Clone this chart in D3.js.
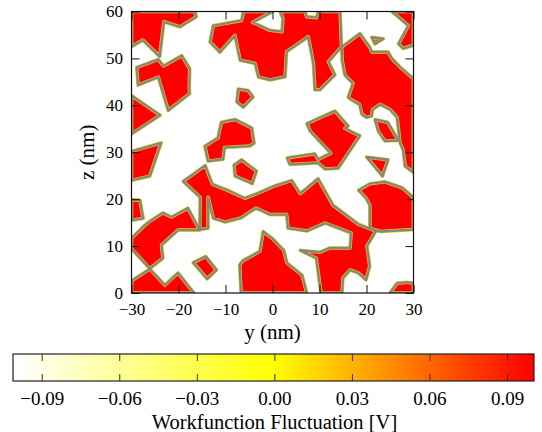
<!DOCTYPE html>
<html><head><meta charset="utf-8">
<script src="https://cdn.jsdelivr.net/npm/d3@7"></script>
<style>
html,body{margin:0;padding:0;background:#fff;}
svg text{font-family:"Liberation Serif","Times New Roman",serif;fill:#000;}
</style></head>
<body><svg id="chart" width="542" height="432"></svg>
<script>
// ---- data (y, z in nm) : regions at +0.1 V (red); the rest is -0.1 V ----
const grainA = [[-30,60],[-30,52.5],[-27.6,53.9],[-24.0,50.4],[-23.1,57.8],[-19.7,56.7],[-16.2,58.9],[-16.5,60]];
const grainB = [[-28.9,48.1],[-24.3,49.8],[-23.2,48.4],[-19.3,50.6],[-17.6,47.8],[-17.7,43.6],[-17.6,42.5],[-22.2,38.9],[-24.3,46.0],[-28.6,44.3]];
const grainC = [[-6.2,60],[0.1,60],[-4.2,57.7],[-0.5,56.0],[2.0,55.7],[2.2,58.5],[1.6,60],[6.9,60],[7.3,58.9],[9.4,58.7],[9.7,60],[14.4,60],[14.7,52.5],[11.9,49.3],[13.3,46.5],[10.1,43.3],[9.0,43.3],[8.7,48.9],[7.6,54.6],[3.0,51.4],[2.7,46.1],[-0.5,45.4],[-3.0,46.0],[-3.7,48.9],[-6.9,49.6],[-8.0,54.9],[-11.2,51.3],[-13.3,53.5],[-12.6,57.0],[-6.6,58.1]];
const grainTri = [[21.1,54.5],[23.6,54.2],[21.8,53.1]];
const grainCornerTR = [[25.4,60],[28.9,57.0],[26.8,53.1],[27.8,52.1],[30,52.8],[30,60]];
const grainD = [[14.7,52.4],[18.6,55.3],[20.7,52.4],[21.1,51.4],[24.6,51.4],[25.4,50.0],[27.1,48.2],[30,45.7],[30,25.7],[28.2,27.0],[27.8,30.4],[27.1,32.1],[26.7,35.7],[26.5,37.4],[25.0,39.1],[22.9,40.2],[21.3,39.1],[21.1,37.7],[20.0,37.4],[19.0,38.1],[18.5,40.2],[16.9,41.1],[16.1,41.7],[17.1,44.7],[15.4,46.4],[14.8,49.6]];
const grainF = [[21.8,37.0],[24.5,36.4],[26.8,32.5],[23.9,32.4],[22.5,34.5]];
const grainG = [[7.3,36.1],[8.0,34.5],[12.4,29.8],[9.7,28.5],[9.0,29.7],[3.1,28.8],[3.7,27.4],[9.7,27.7],[11.2,26.4],[14.0,26.6],[18.6,33.5],[15.4,35.1],[16.1,35.6],[13.3,38.8]];
const grainH = [[20.0,29.0],[24.6,28.4],[23.4,24.9]];
const grainI = [[18.3,21.9],[20.7,23.3],[23.9,23.7],[27.5,22.5],[30,20.4],[30,13.5],[22.9,13.1],[20.7,13.8],[20.7,18.7],[19.9,20.2]];
const grainCornerBR = [[25.0,0],[26.5,2.1],[28.6,2.3],[30,2.1],[30,0]];
const grainL = [[-30,42.1],[-23.9,37.9],[-30,33.9]];
const grainM = [[-7.3,43.5],[-5.2,43.2],[-4.1,41.8],[-6.2,39.6],[-7.6,40.7]];
const grainN = [[-14.4,31.3],[-11.6,33.1],[-10.9,36.4],[-8.0,37.0],[-4.4,35.2],[-3.9,31.9],[-4.9,31.3],[-10.2,31.0],[-10.5,28.5],[-13.7,28.1]];
const grainO = [[-8.2,27.3],[-6.6,28.4],[-3.4,26.0],[-4.3,23.3],[-8.0,24.9]];
const grainP = [[-30,30.2],[-23.7,32.0],[-26.1,24.9],[-30,24.0]];
const grainSL = [[-30,19.9],[-28.2,19.8],[-27.5,15.9],[-30,15.5]];
const grainR = [[-30,11.7],[-27.1,14.5],[-26.1,15.3],[-23.3,17.1],[-21.5,16.2],[-18.0,18.1],[-15.5,13.4],[-20.1,13.4],[-23.6,10.2],[-23.3,7.4],[-26.1,5.2],[-30,9.4]];
const grainS = [[-30,0],[-30,2.6],[-26.1,5.1],[-22.9,1.7],[-20.1,4.3],[-16.7,0]];
const grainT = [[-16.9,6.5],[-14.2,7.8],[-11.9,4.9],[-13.9,3.0]];
const grainK = [[-6.7,0],[-7.0,6.0],[-6.3,6.9],[-2.7,8.9],[-2.0,13.1],[-0.1,11.7],[2.4,9.1],[3.1,6.4],[6.3,3.8],[7.3,0]];
const grainBandJ = [[-19.0,23.8],[-14.3,27.2],[-12.8,23.2],[-9.5,21.9],[-5.9,20.2],[-3.1,21.3],[0.3,22.8],[4.1,24.0],[5.9,21.2],[9.7,24.4],[12.9,18.7],[18.2,14.7],[22.0,13.2],[20.1,10.0],[20.7,5.7],[19.9,2.8],[18.2,4.3],[16.5,4.9],[15.0,3.2],[14.8,0],[10.3,0],[9.3,7.4],[5.9,9.1],[10.1,8.7],[12.2,9.6],[16.5,9.6],[16.7,12.8],[11.2,14.9],[7.3,13.2],[3.3,13.8],[3.0,16.7],[-0.5,16.7],[-3.5,18.1],[-6.7,16.0],[-10.1,15.1],[-12.6,15.9],[-13.7,20.4],[-13.7,13.8],[-15.5,13.5],[-15.4,20.4]];

const highRegions = [grainA, grainB, grainC, grainTri, grainCornerTR, grainD, grainF, grainG, grainH, grainI, grainCornerBR, grainL, grainM, grainN, grainO, grainP, grainSL, grainR, grainS, grainT, grainK, grainBandJ];
const highValue = 0.1;
const lowValue = -0.1;

const yTicks = [-30, -20, -10, 0, 10, 20, 30];
const zTicks = [0, 10, 20, 30, 40, 50, 60];
const cbTicks = [-0.09, -0.06, -0.03, 0.00, 0.03, 0.06, 0.09];
const cbStops = [-0.1, 0, 0.1];
const cbColors = ["#ffffff", "#ffff00", "#ff0000"];
const xLabel = "y (nm)";
const yLabel = "z (nm)";
const cbLabel = "Workfunction Fluctuation [V]";

// ---- drawing ----
const svg = d3.select("#chart");
const x = d3.scaleLinear().domain([-30, 30]).range([131.5, 413.5]);
const y = d3.scaleLinear().domain([0, 60]).range([293, 11.5]);
const color = d3.scaleLinear().domain(cbStops).range(cbColors);

svg.append("defs").append("clipPath").attr("id", "plotclip")
  .append("rect").attr("x", x(-30)).attr("y", y(60))
  .attr("width", x(30) - x(-30)).attr("height", y(0) - y(60));

const plot = svg.append("g").attr("clip-path", "url(#plotclip)");
plot.append("rect").attr("x", x(-30)).attr("y", y(60))
  .attr("width", x(30) - x(-30)).attr("height", y(0) - y(60))
  .attr("fill", color(lowValue));

const line = d3.line().x(d => x(d[0])).y(d => y(d[1])).curve(d3.curveLinearClosed);
plot.selectAll("path.fill").data(highRegions).join("path").attr("class", "fill")
  .attr("d", line).attr("fill", color(highValue)).attr("stroke", "none");
plot.selectAll("path.fringe").data(highRegions).join("path").attr("class", "fringe")
  .attr("d", line).attr("fill", "none").attr("stroke", "#e6d21a").attr("stroke-width", 3.6)
  .attr("stroke-linejoin", "round");
plot.selectAll("path.edge").data(highRegions).join("path").attr("class", "edge")
  .attr("d", line).attr("fill", "none").attr("stroke", "#858585").attr("stroke-width", 2.4)
  .attr("stroke-linejoin", "round");

// axes
const fmtInt = d3.format("d");
function styleAxis(g, size) {
  g.select(".domain").remove();
  g.selectAll(".tick line").attr("stroke", "#111").attr("stroke-width", 1);
  g.selectAll("text").attr("font-family", "Liberation Serif").attr("font-size", size).attr("fill", "#000");
  g.attr("font-family", null).attr("font-size", null);
}
svg.append("g").attr("transform", `translate(0,${y(0)})`)
  .call(d3.axisBottom(x).tickValues(yTicks).tickFormat(fmtInt).tickSizeInner(-8).tickSizeOuter(0).tickPadding(10))
  .call(g => styleAxis(g, 17));
svg.append("g").attr("transform", `translate(0,${y(60)})`)
  .call(d3.axisTop(x).tickValues(yTicks).tickFormat("").tickSizeInner(-8).tickSizeOuter(0))
  .call(g => styleAxis(g, 17));
svg.append("g").attr("transform", `translate(${x(-30)},0)`)
  .call(d3.axisLeft(y).tickValues(zTicks).tickFormat(fmtInt).tickSizeInner(-8).tickSizeOuter(0).tickPadding(8.5))
  .call(g => styleAxis(g, 17));
svg.append("g").attr("transform", `translate(${x(30)},0)`)
  .call(d3.axisRight(y).tickValues(zTicks).tickFormat("").tickSizeInner(-8).tickSizeOuter(0))
  .call(g => styleAxis(g, 17));

svg.append("rect").attr("x", x(-30)).attr("y", y(60))
  .attr("width", x(30) - x(-30)).attr("height", y(0) - y(60))
  .attr("fill", "none").attr("stroke", "#111").attr("stroke-width", 1.2);

svg.append("text").attr("x", (x(-30) + x(30)) / 2).attr("y", 339)
  .attr("text-anchor", "middle").attr("font-size", 21).text(xLabel);
svg.append("text").attr("transform", `translate(94,${(y(0) + y(60)) / 2}) rotate(-90)`)
  .attr("text-anchor", "middle").attr("font-size", 21).text(yLabel);

// colorbar
const cb = d3.scaleLinear().domain([-0.1, 0.1]).range([15.85, 532.85]);
const cbTop = 354, cbBottom = 381, cbLeft = 13, cbRight = 534;
const grad = svg.select("defs").append("linearGradient").attr("id", "cbgrad")
  .attr("gradientUnits", "userSpaceOnUse")
  .attr("x1", cb(cbStops[0])).attr("x2", cb(cbStops[cbStops.length - 1])).attr("y1", 0).attr("y2", 0);
grad.selectAll("stop").data(cbStops).join("stop")
  .attr("offset", d => (cb(d) - cb(cbStops[0])) / (cb(cbStops[cbStops.length - 1]) - cb(cbStops[0])))
  .attr("stop-color", d => color(d));
svg.append("rect").attr("x", cbLeft).attr("y", cbTop).attr("width", cbRight - cbLeft).attr("height", cbBottom - cbTop)
  .attr("fill", "url(#cbgrad)");
svg.append("g").attr("transform", `translate(0,${cbBottom})`)
  .call(d3.axisBottom(cb).tickValues(cbTicks).tickFormat(d3.format(".2f")).tickSizeInner(-7).tickSizeOuter(0).tickPadding(11))
  .call(g => styleAxis(g, 19))
  .call(g => g.selectAll(".tick line").attr("stroke", "#333"));
svg.append("g").attr("transform", `translate(0,${cbTop})`)
  .call(d3.axisTop(cb).tickValues(cbTicks).tickFormat("").tickSizeInner(-7).tickSizeOuter(0))
  .call(g => styleAxis(g, 19))
  .call(g => g.selectAll(".tick line").attr("stroke", "#333"));
svg.append("rect").attr("x", cbLeft).attr("y", cbTop).attr("width", cbRight - cbLeft).attr("height", cbBottom - cbTop)
  .attr("fill", "none").attr("stroke", "#222").attr("stroke-width", 1.2);
svg.append("text").attr("x", (cbLeft + cbRight) / 2 + 1).attr("y", 428.5)
  .attr("text-anchor", "middle").attr("font-size", 20.5).text(cbLabel);
</script></body></html>
